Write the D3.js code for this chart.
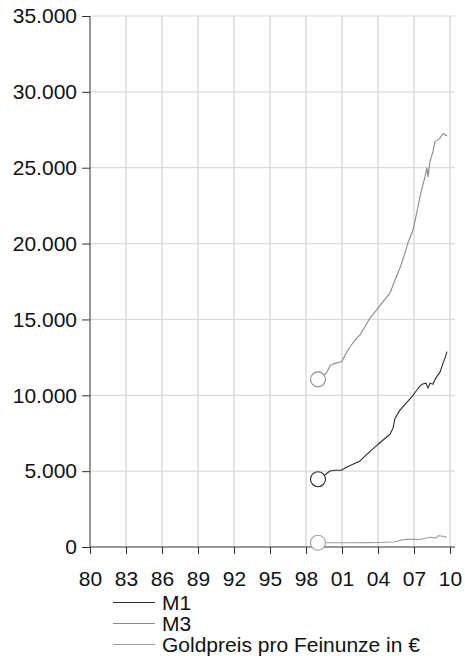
<!DOCTYPE html>
<html>
<head>
<meta charset="utf-8">
<script src="https://cdn.jsdelivr.net/npm/d3@7"></script>
<style>
  html, body { margin: 0; padding: 0; background: #fff; }
  svg { display: block; font-family: "Liberation Sans", Arial, sans-serif; }
</style>
</head>
<body>
<svg id="chart" width="465" height="656"></svg>
<script>
// Geldmenge M1, M3 und Goldpreis (Euro-Raum), 1999–2009
const xTickYears = [1980, 1983, 1986, 1989, 1992, 1995, 1998, 2001, 2004, 2007, 2010];
const yTickValues = [0, 5000, 10000, 15000, 20000, 25000, 30000, 35000];

const m1Years  = [1999.0, 1999.5, 1999.75, 2000.0, 2000.42, 2000.97, 2001.5, 2002.0, 2002.5, 2003.0, 2003.5, 2004.0, 2004.5, 2005.0, 2005.25, 2005.42, 2005.83, 2006.42, 2006.92, 2007.33, 2007.67, 2008.0, 2008.17, 2008.33, 2008.58, 2008.75, 2008.92, 2009.17, 2009.42, 2009.58, 2009.75];
const m1Values = [4470, 4700, 4860, 5010, 5060, 5070, 5300, 5480, 5670, 6050, 6420, 6770, 7100, 7430, 7830, 8490, 9020, 9550, 10000, 10450, 10730, 10800, 10470, 10800, 10730, 11050, 11260, 11530, 12120, 12450, 12880];

const m3Years  = [1999.0, 1999.5, 1999.75, 2000.0, 2000.25, 2000.97, 2001.3, 2001.67, 2002.1, 2002.5, 2002.9, 2003.33, 2003.7, 2004.0, 2004.5, 2005.0, 2005.42, 2005.83, 2006.17, 2006.5, 2006.92, 2007.25, 2007.5, 2007.75, 2007.92, 2008.08, 2008.17, 2008.33, 2008.58, 2008.75, 2009.0, 2009.17, 2009.33, 2009.5, 2009.67, 2009.75];
const m3Values = [11050, 11300, 11540, 11940, 12070, 12210, 12700, 13200, 13650, 13980, 14500, 15090, 15450, 15750, 16250, 16740, 17600, 18400, 19200, 20050, 20910, 22100, 23090, 23900, 24410, 25000, 24400, 25400, 26060, 26720, 26850, 26950, 27180, 27250, 27100, 27150];

const goldYears  = [1999.0, 1999.75, 2001.0, 2002.0, 2003.08, 2004.0, 2005.27, 2005.7, 2006.0, 2006.4, 2007.0, 2007.5, 2008.06, 2008.3, 2008.6, 2008.85, 2009.03, 2009.2, 2009.44, 2009.6, 2009.75];
const goldValues = [280, 280, 285, 285, 290, 300, 330, 400, 470, 510, 500, 490, 590, 640, 620, 600, 750, 730, 700, 660, 670];

const seriesNames  = ["M1", "M3", "Goldpreis pro Feinunze in €"];
const seriesColors = ["#2b2b2b", "#8a8a8a", "#a0a0a0"];

const series = [
  { name: seriesNames[0], color: seriesColors[0], points: m1Years.map((t, i) => [t, m1Values[i]]) },
  { name: seriesNames[1], color: seriesColors[1], points: m3Years.map((t, i) => [t, m3Values[i]]) },
  { name: seriesNames[2], color: seriesColors[2], points: goldYears.map((t, i) => [t, goldValues[i]]) }
];

const svg = d3.select("#chart");
const plotLeft = 90, plotRight = 450, gridRight = 455, plotTop = 16, plotBottom = 547;
const fontSize = 21;

const x = d3.scaleLinear().domain([1980, 2010]).range([plotLeft, plotRight]);
const y = d3.scaleLinear().domain([0, 35000]).range([plotBottom, plotTop]);

const de = d3.formatLocale({ decimal: ",", thousands: ".", grouping: [3], currency: ["", " €"] });
const fmtY = de.format(",");

svg.append("rect").attr("width", 465).attr("height", 656).attr("fill", "#fff");

// grid
const grid = svg.append("g").attr("stroke", "#d0d0d0").attr("stroke-width", 1.2);
grid.selectAll("line.v").data(xTickYears.slice(1)).join("line").attr("class", "v")
  .attr("x1", d => x(d)).attr("x2", d => x(d))
  .attr("y1", plotTop).attr("y2", plotBottom);
grid.selectAll("line.h").data(yTickValues.slice(1)).join("line").attr("class", "h")
  .attr("x1", plotLeft).attr("x2", gridRight)
  .attr("y1", d => y(d)).attr("y2", d => y(d))
  .attr("stroke", "#dadada");

// y axis
const yAxis = svg.append("g").attr("transform", `translate(${plotLeft},0)`)
  .call(d3.axisLeft(y).tickValues(yTickValues).tickFormat(fmtY).tickSize(8).tickPadding(5).tickSizeOuter(0));
yAxis.select(".domain").remove();
yAxis.append("line").attr("x1", 0).attr("x2", 0).attr("y1", plotTop).attr("y2", plotBottom).attr("stroke", "#333");
yAxis.selectAll(".tick line").attr("stroke", "#333");
yAxis.selectAll("text").attr("font-size", fontSize).attr("fill", "#111")
  .attr("font-family", "Liberation Sans, Arial, sans-serif");

// x axis
const xAxis = svg.append("g").attr("transform", `translate(0,${plotBottom})`)
  .call(d3.axisBottom(x).tickValues(xTickYears)
    .tickFormat(d => String(d % 100).padStart(2, "0")).tickSize(7).tickPadding(10).tickSizeOuter(0));
xAxis.select(".domain").remove();
xAxis.append("line").attr("x1", plotLeft).attr("x2", gridRight).attr("y1", 0).attr("y2", 0).attr("stroke", "#333");
xAxis.selectAll(".tick line").attr("stroke", "#333");
xAxis.selectAll("text").attr("font-size", fontSize).attr("fill", "#111")
  .attr("font-family", "Liberation Sans, Arial, sans-serif")
  .attr("y", 39).attr("dy", 0);

// lines
const line = d3.line().x(d => x(d[0])).y(d => y(d[1]));
svg.append("g").selectAll("path").data(series).join("path")
  .attr("d", d => line(d.points))
  .attr("fill", "none")
  .attr("stroke", d => d.color)
  .attr("stroke-width", 1.1)
  .attr("stroke-linejoin", "round");

// start markers
svg.append("g").selectAll("circle").data(series).join("circle")
  .attr("cx", d => x(d.points[0][0]))
  .attr("cy", d => y(d.points[0][1]))
  .attr("r", 7.5)
  .attr("fill", "#fff")
  .attr("stroke", d => d.color)
  .attr("stroke-width", 1.1);

// legend
const legend = svg.append("g");
const rows = legend.selectAll("g").data(series).join("g")
  .attr("transform", (d, i) => `translate(113,${602.5 + i * 21})`);
rows.append("line").attr("x1", 0).attr("x2", 42).attr("y1", 0).attr("y2", 0)
  .attr("stroke", d => d.color).attr("stroke-width", 1.1);
rows.append("text").attr("x", 49).attr("y", 7.5)
  .attr("font-size", fontSize).attr("fill", "#111")
  .text(d => d.name);
</script>
</body>
</html>
